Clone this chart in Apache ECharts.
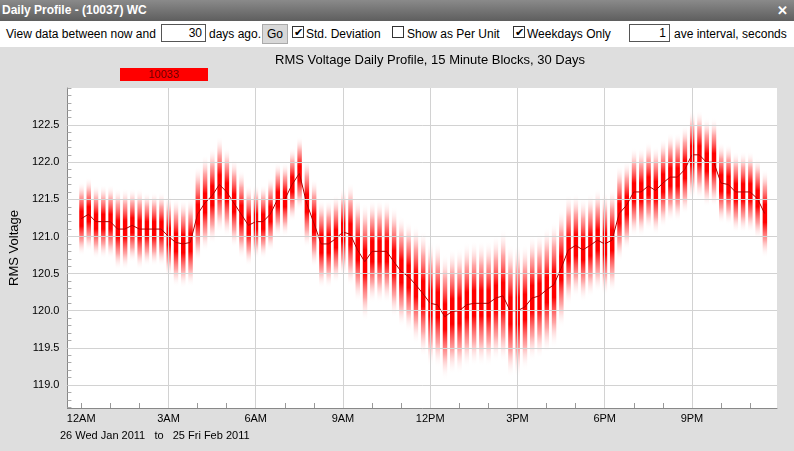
<!doctype html>
<html>
<head>
<meta charset="utf-8">
<style>
body{margin:0;width:794px;height:451px;overflow:hidden;background:#dedede;font-family:"Liberation Sans",Arial,sans-serif;}
#titlebar{position:absolute;left:0;top:0;width:794px;height:21px;background:linear-gradient(#8a8a8a,#5e5e5e);color:#fff;font-weight:bold;font-size:12px;line-height:21px;}
#titlebar span{margin-left:2px}
#titlebar .x{position:absolute;right:6px;top:0;font-size:13px}
#toolbar{position:absolute;left:0;top:21px;width:794px;height:26px;background:#fff;font-size:12px;color:#000}
#toolbar .t{position:absolute;top:6px;white-space:nowrap}
#toolbar .box{position:absolute;top:3px;height:18px;border:1px solid #555;background:#fff;text-align:right;line-height:17px;padding-right:3px;box-sizing:border-box}
#toolbar .cb{position:absolute;top:5px;width:12px;height:12px;border:1px solid #333;background:#fff;box-sizing:border-box;font-size:11px;line-height:10px;text-align:center}
#toolbar .btn{position:absolute;top:3px;left:262px;width:26px;height:20px;background:#d8d8d8;border:1px solid #aaa;box-sizing:border-box;text-align:center;line-height:18px}
#chart{position:absolute;left:0;top:0;width:794px;height:451px}
</style>
<script src="https://cdn.jsdelivr.net/npm/echarts@6/dist/echarts.min.js"></script>
</head>
<body>
<div id="chart"></div>
<div id="titlebar"><span>Daily Profile - (10037) WC</span><span class="x">✕</span></div>
<div id="toolbar">
  <span class="t" style="left:6px">View data between now and</span>
  <div class="box" style="left:161px;width:45px">30</div>
  <span class="t" style="left:209px">days ago.</span>
  <div class="btn">Go</div>
  <div class="cb" style="left:292px">✔</div>
  <span class="t" style="left:306px">Std. Deviation</span>
  <div class="cb" style="left:392px"></div>
  <span class="t" style="left:407px">Show as Per Unit</span>
  <div class="cb" style="left:513px">✔</div>
  <span class="t" style="left:527px">Weekdays Only</span>
  <div class="box" style="left:629px;width:41px">1</div>
  <span class="t" style="left:674px">ave interval, seconds</span>
</div>
<script>
// mean RMS voltage per 15 minute block
var meanVolts = [
  121.24,121.3,121.2,121.2,121.2,121.1,121.1,121.15,121.1,121.1,121.1,121.1,
  121.0,120.92,120.9,120.92,121.3,121.45,121.55,121.7,121.6,121.45,121.3,121.15,
  121.2,121.2,121.3,121.5,121.5,121.7,121.85,121.45,121.18,120.9,120.9,120.97,
  121.06,121.03,120.82,120.66,120.8,120.8,120.8,120.66,120.53,120.46,120.35,120.23,
  120.1,120.08,119.92,119.99,120.0,120.08,120.1,120.1,120.1,120.17,120.2,120.0,
  120.0,120.05,120.17,120.2,120.28,120.35,120.57,120.82,120.88,120.82,120.88,120.95,
  120.9,120.95,121.31,121.42,121.6,121.6,121.68,121.62,121.72,121.8,121.8,121.9,
  122.1,122.1,122.0,122.0,121.72,121.7,121.6,121.6,121.6,121.51,121.31
];
// standard deviation per block
var stdDev = [
  0.5,0.5,0.5,0.5,0.5,0.55,0.55,0.5,0.55,0.5,0.5,0.5,
  0.55,0.6,0.6,0.6,0.65,0.65,0.65,0.65,0.6,0.6,0.6,0.55,
  0.5,0.5,0.5,0.5,0.5,0.5,0.5,0.6,0.6,0.6,0.6,0.6,
  0.6,0.7,0.7,0.8,0.7,0.7,0.7,0.75,0.75,0.75,0.8,0.85,
  0.85,0.85,0.85,0.85,0.85,0.85,0.85,0.85,0.85,0.85,0.9,0.9,
  0.9,0.85,0.85,0.85,0.85,0.85,0.8,0.75,0.7,0.7,0.7,0.7,
  0.7,0.7,0.65,0.6,0.6,0.6,0.6,0.6,0.6,0.6,0.6,0.6,
  0.6,0.6,0.6,0.6,0.55,0.55,0.55,0.55,0.55,0.55,0.6
];
var hourLabels = ['12AM','3AM','6AM','9AM','12PM','3PM','6PM','9PM'];
var labelPos = [0,12,24,36,48,60,72,84];
var gridXPos = [12,24,36,48,60,72,84];
var yLabelVals = [119.0,119.5,120.0,120.5,121.0,121.5,122.0,122.5];

var hourTicks = [];
for (var h = 0; h < 24; h++) hourTicks.push(h * 4);
var minorTicks = [];
for (var v = 1187; v <= 1230; v++) minorTicks.push(v / 10);

var chart = echarts.init(document.getElementById('chart'));
var gridColor = '#d2d2d2';
chart.setOption({
  animation: false,
  backgroundColor: '#dedede',
  title: {
    text: 'RMS Voltage Daily Profile, 15 Minute Blocks, 30 Days',
    left: 425, top: 49, textAlign: 'center',
    textStyle: {fontFamily: 'Liberation Sans', fontSize: 13, fontWeight: 'normal', color: '#000'}
  },
  graphic: [
    {type: 'rect', shape: {x: 120, y: 68, width: 88, height: 13}, style: {fill: '#ff0000'}},
    {type: 'text', x: 164, y: 75, style: {text: '10033', fill: '#660000', font: '11px "Liberation Sans"', textAlign: 'center', textVerticalAlign: 'middle'}},
    {type: 'text', x: 60, y: 430, style: {text: '26 Wed Jan 2011   to   25 Fri Feb 2011', fill: '#000', font: '11px "Liberation Sans"'}}
  ],
  grid: {left: 63, right: 17, top: 88, bottom: 43, backgroundColor: '#fff', show: true, borderWidth: 0},
  xAxis: {
    type: 'value', min: -1.9, max: 95.7,
    axisLine: {show: true, onZero: false, lineStyle: {color: '#888'}},
    axisTick: {show: true, customValues: hourTicks, length: 5, inside: true, lineStyle: {color: '#999'}},
    axisLabel: {customValues: labelPos, color: '#000', fontSize: 11, fontFamily: 'Liberation Sans', margin: 5,
      formatter: function (v) { return hourLabels[labelPos.indexOf(Math.round(v))] || ''; }},
    splitLine: {show: false}
  },
  yAxis: {
    type: 'value', min: 118.69, max: 123.0,
    name: 'RMS Voltage', nameLocation: 'middle', nameGap: 38,
    nameTextStyle: {color: '#000', fontSize: 13, fontFamily: 'Liberation Sans'},
    axisLine: {show: true, onZero: false, lineStyle: {color: '#888'}},
    axisTick: {show: true, customValues: minorTicks, length: 4, inside: true, lineStyle: {color: '#aaa'}},
    axisLabel: {customValues: yLabelVals, color: '#000', fontSize: 11, fontFamily: 'Liberation Sans',
      formatter: function (v) { return v.toFixed(1); }},
    splitLine: {show: false}
  },
  series: [
    {
      type: 'line', data: [], silent: true,
      markLine: {
        symbol: 'none', silent: true, label: {show: false},
        lineStyle: {color: gridColor, type: 'solid', width: 1},
        data: gridXPos.map(function (p) { return {xAxis: p}; })
          .concat(yLabelVals.map(function (p) { return {yAxis: p}; }))
      }
    },
    {
      type: 'custom',
      data: meanVolts.map(function (m, i) { return [i, m, stdDev[i]]; }),
      renderItem: function (params, api) {
        var i = api.value(0), m = api.value(1), s = api.value(2);
        var top = api.coord([i, m + s]);
        var bot = api.coord([i, m - s]);
        return {
          type: 'rect',
          shape: {x: top[0] - 2, y: top[1], width: 4.5, height: bot[1] - top[1]},
          style: {
            fill: new echarts.graphic.LinearGradient(0, 0, 0, 1, [
              {offset: 0, color: 'rgba(255,255,255,0)'},
              {offset: 0.2, color: 'rgba(255,90,90,0.55)'},
              {offset: 0.4, color: 'rgba(255,0,0,1)'},
              {offset: 0.6, color: 'rgba(255,0,0,1)'},
              {offset: 0.8, color: 'rgba(255,90,90,0.55)'},
              {offset: 1, color: 'rgba(255,255,255,0)'}
            ])
          }
        };
      }
    },
    {
      type: 'line', data: meanVolts.map(function (m, i) { return [i, m]; }),
      symbol: 'none', lineStyle: {color: '#b00000', width: 1}
    }
  ]
});
</script>
</body>
</html>
